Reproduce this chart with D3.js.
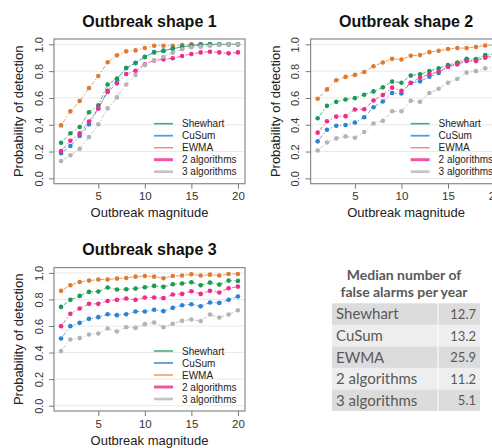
<!DOCTYPE html>
<html>
<head>
<meta charset="utf-8">
<script src="https://cdn.jsdelivr.net/npm/d3@7"></script>
<style>
  body { margin: 0; background: #fff; }
  svg { display: block; }
</style>
</head>
<body>
<div id="chart"></div>
<script>
// outbreak magnitude (x) values
var magnitudes = [1, 2, 3, 4, 5, 6, 7, 8, 9, 10, 11, 12, 13, 14, 15, 16, 17, 18, 19, 20];
var seriesNames = ["Shewhart", "CuSum", "EWMA", "2 algorithms", "3 algorithms"];
var yTicks = [0, 0.2, 0.4, 0.6, 0.8, 1.0];
var xTicks = [5, 10, 15, 20];

// outbreak shape 1
var s1Shewhart = [0.266, 0.336, 0.383, 0.493, 0.545, 0.70, 0.744, 0.823, 0.86, 0.905, 0.94, 0.953, 0.968, 0.98, 0.99, 0.995, 1.0, 1.0, 1.0, 1.0];
var s1CuSum    = [0.187, 0.241, 0.316, 0.403, 0.522, 0.654, 0.739, 0.823, 0.863, 0.908, 0.943, 0.95, 0.968, 0.983, 0.993, 1.0, 1.0, 1.0, 1.0, 1.0];
var s1EWMA     = [0.395, 0.50, 0.577, 0.674, 0.764, 0.866, 0.918, 0.948, 0.955, 0.973, 0.99, 0.99, 0.99, 0.995, 1.0, 1.0, 1.0, 1.0, 1.0, 1.0];
var s1Two      = [0.204, 0.281, 0.336, 0.423, 0.522, 0.644, 0.709, 0.779, 0.803, 0.851, 0.88, 0.888, 0.896, 0.913, 0.928, 0.94, 0.945, 0.94, 0.933, 0.94];
var s1Three    = [0.129, 0.172, 0.221, 0.308, 0.403, 0.522, 0.604, 0.70, 0.771, 0.846, 0.883, 0.908, 0.938, 0.963, 0.978, 0.983, 0.99, 0.998, 1.0, 1.0];

// outbreak shape 2
var s2Shewhart = [0.449, 0.541, 0.571, 0.589, 0.599, 0.624, 0.649, 0.679, 0.722, 0.714, 0.767, 0.777, 0.80, 0.822, 0.845, 0.865, 0.892, 0.89, 0.92, 0.93];
var s2CuSum    = [0.276, 0.363, 0.393, 0.398, 0.416, 0.456, 0.531, 0.574, 0.637, 0.634, 0.712, 0.724, 0.759, 0.787, 0.837, 0.857, 0.882, 0.88, 0.90, 0.91];
var s2EWMA     = [0.594, 0.664, 0.732, 0.757, 0.772, 0.794, 0.837, 0.865, 0.892, 0.887, 0.915, 0.92, 0.942, 0.952, 0.965, 0.972, 0.972, 0.98, 0.992, 0.995];
var s2Two      = [0.341, 0.426, 0.461, 0.464, 0.514, 0.516, 0.581, 0.622, 0.677, 0.654, 0.714, 0.752, 0.777, 0.797, 0.832, 0.85, 0.875, 0.875, 0.905, 0.92];
var s2Three    = [0.208, 0.268, 0.298, 0.313, 0.303, 0.346, 0.409, 0.429, 0.501, 0.501, 0.579, 0.571, 0.637, 0.669, 0.714, 0.742, 0.789, 0.80, 0.822, 0.83];

// outbreak shape 3
var s3Shewhart = [0.744, 0.797, 0.827, 0.857, 0.86, 0.89, 0.875, 0.877, 0.882, 0.892, 0.902, 0.895, 0.915, 0.92, 0.93, 0.907, 0.927, 0.912, 0.942, 0.94];
var s3CuSum    = [0.506, 0.599, 0.624, 0.654, 0.667, 0.689, 0.682, 0.689, 0.709, 0.709, 0.722, 0.712, 0.737, 0.757, 0.764, 0.749, 0.777, 0.774, 0.797, 0.822];
var s3EWMA     = [0.865, 0.907, 0.932, 0.942, 0.95, 0.95, 0.957, 0.962, 0.972, 0.977, 0.972, 0.96, 0.977, 0.98, 0.99, 0.98, 0.987, 0.98, 0.992, 0.992];
var s3Two      = [0.599, 0.692, 0.732, 0.767, 0.767, 0.789, 0.797, 0.807, 0.797, 0.815, 0.815, 0.81, 0.837, 0.842, 0.862, 0.842, 0.865, 0.852, 0.885, 0.897];
var s3Three    = [0.411, 0.499, 0.509, 0.536, 0.544, 0.581, 0.559, 0.591, 0.586, 0.614, 0.627, 0.591, 0.617, 0.639, 0.649, 0.637, 0.687, 0.664, 0.687, 0.719];

// table of false alarms
var tableLabels = ["Shewhart", "CuSum", "EWMA", "2 algorithms", "3 algorithms"];
var tableValues = ["12.7", "13.2", "25.9", "11.2", "5.1"];

var colors = {
  "Shewhart": "#1a9a55",
  "CuSum": "#2e82d4",
  "EWMA": "#e07a30",
  "2 algorithms": "#ef2b8c",
  "3 algorithms": "#b4b4b4"
};
var legendWidth = { "Shewhart": 1.6, "CuSum": 1.8, "EWMA": 1.4, "2 algorithms": 3, "3 algorithms": 2.6 };

var panels = [
  { title: "Outbreak shape 1", x0: 54, x1: 245, y0: 39, y1: 183.7,
    series: [s1Shewhart, s1CuSum, s1EWMA, s1Two, s1Three] },
  { title: "Outbreak shape 2", x0: 310.6, x1: 501.6, y0: 39, y1: 183.7,
    series: [s2Shewhart, s2CuSum, s2EWMA, s2Two, s2Three] },
  { title: "Outbreak shape 3", x0: 54, x1: 245, y0: 267.6, y1: 411,
    series: [s3Shewhart, s3CuSum, s3EWMA, s3Two, s3Three] }
];
// drawing order of series (index into seriesNames)
var drawOrder = [2, 1, 0, 3, 4];

var svg = d3.select("#chart")
  .append("svg")
    .attr("width", 492)
    .attr("height", 448)
    .style("font-family", "'Liberation Sans', Arial, sans-serif");

panels.forEach(function(p) {
  var x = d3.scaleLinear().domain([0.24, 20.76]).range([p.x0, p.x1]);
  var y = d3.scaleLinear().domain([-0.04, 1.04]).range([p.y1, p.y0]);
  var g = svg.append("g");

  // light grid
  g.append("g")
    .selectAll("line")
    .data(yTicks)
    .enter()
    .append("line")
      .attr("x1", p.x0).attr("x2", p.x1)
      .attr("y1", d => y(d)).attr("y2", d => y(d))
      .attr("stroke", "#e9e9e9")
      .attr("stroke-width", 1);

  // lines + points
  drawOrder.forEach(function(i) {
    var name = seriesNames[i];
    var vals = p.series[i];
    var pts = magnitudes.map((m, k) => [m, vals[k]]);
    var line = d3.line().x(d => x(d[0])).y(d => y(d[1]));
    g.append("path")
      .datum(pts)
      .attr("d", line)
      .attr("fill", "none")
      .attr("stroke", colors[name])
      .attr("stroke-width", 1)
      .attr("stroke-opacity", 0.75)
      .attr("stroke-dasharray", "1.5,2,4,2");
    g.append("g")
      .selectAll("circle")
      .data(pts)
      .enter()
      .append("circle")
        .attr("cx", d => x(d[0]))
        .attr("cy", d => y(d[1]))
        .attr("r", 2.3)
        .style("fill", colors[name]);
  });

  // box
  g.append("rect")
    .attr("x", p.x0).attr("y", p.y0)
    .attr("width", p.x1 - p.x0).attr("height", p.y1 - p.y0)
    .attr("fill", "none")
    .attr("stroke", "#8a8a8a")
    .attr("stroke-width", 1.2);

  // y axis
  var ya = g.append("g")
    .attr("transform", "translate(" + p.x0 + ",0)")
    .call(d3.axisLeft(y).tickValues(yTicks).tickSize(5).tickFormat(d3.format(".1f")));
  ya.select(".domain").remove();
  ya.selectAll("line").attr("stroke", "#777");
  ya.selectAll("text")
    .attr("transform", "rotate(-90)")
    .attr("x", 0).attr("y", -11.5).attr("dy", 0)
    .style("text-anchor", "middle")
    .style("font-size", "11px")
    .style("font-family", "'Liberation Sans', Arial, sans-serif")
    .attr("fill", "#333");

  // x axis
  var xa = g.append("g")
    .attr("transform", "translate(0," + p.y1 + ")")
    .call(d3.axisBottom(x).tickValues(xTicks).tickSize(5).tickPadding(3.5));
  xa.select(".domain").remove();
  xa.selectAll("line").attr("stroke", "#777");
  xa.selectAll("text")
    .style("font-size", "11.5px")
    .style("font-family", "'Liberation Sans', Arial, sans-serif")
    .attr("fill", "#333");

  // title
  g.append("text")
    .attr("x", (p.x0 + p.x1) / 2)
    .attr("y", p.y0 - 12.5)
    .attr("text-anchor", "middle")
    .style("font-size", "16px")
    .style("font-weight", "bold")
    .attr("fill", "#111")
    .text(p.title);

  // axis labels
  g.append("text")
    .attr("transform", "translate(" + (p.x0 - 31) + "," + ((p.y0 + p.y1) / 2) + ") rotate(-90)")
    .attr("text-anchor", "middle")
    .style("font-size", "13px")
    .attr("fill", "#222")
    .text("Probability of detection");
  g.append("text")
    .attr("x", (p.x0 + p.x1) / 2)
    .attr("y", p.y1 + 33.5)
    .attr("text-anchor", "middle")
    .style("font-size", "13px")
    .attr("fill", "#222")
    .text("Outbreak magnitude");

  // legend
  var lg = g.append("g")
    .attr("transform", "translate(" + (p.x1 - 91) + "," + (p.y1 - 60) + ")");
  seriesNames.forEach(function(name, i) {
    lg.append("line")
      .attr("x1", 0).attr("x2", 19)
      .attr("y1", i * 12).attr("y2", i * 12)
      .attr("stroke", colors[name])
      .attr("stroke-opacity", 0.8)
      .attr("stroke-width", legendWidth[name]);
    lg.append("text")
      .attr("x", 28).attr("y", i * 12)
      .attr("dy", "0.35em")
      .style("font-size", "10px")
      .attr("fill", "#222")
      .text(name);
  });
});

// table: median number of false alarms per year
var tb = svg.append("g").style("font-family", "Lato, 'Noto Sans', sans-serif");
tb.append("text")
  .attr("x", 404).attr("y", 280)
  .attr("text-anchor", "middle")
  .style("font-size", "14px").style("font-weight", "bold")
  .attr("fill", "#595959")
  .text("Median number of");
tb.append("text")
  .attr("x", 404).attr("y", 297)
  .attr("text-anchor", "middle")
  .style("font-size", "14px").style("font-weight", "bold")
  .attr("fill", "#595959")
  .text("false alarms per year");

var rowY = d3.scaleBand().domain(tableLabels).range([303.3, 411]);
var rows = tb.selectAll("g.row")
  .data(tableLabels)
  .enter()
  .append("g")
    .attr("class", "row")
    .attr("transform", d => "translate(0," + rowY(d) + ")");
rows.append("rect")
  .attr("x", 332).attr("width", 148)
  .attr("height", rowY.bandwidth())
  .attr("fill", (d, i) => i % 2 === 0 ? "#dcdcdc" : "#eeeeee");
rows.append("line")
  .attr("x1", 438).attr("x2", 438)
  .attr("y1", 0).attr("y2", rowY.bandwidth())
  .attr("stroke", "#fff").attr("stroke-width", 1);
rows.append("text")
  .attr("x", 336).attr("y", rowY.bandwidth() / 2)
  .attr("dy", "0.36em")
  .style("font-size", "15px")
  .attr("fill", "#595959")
  .text(d => d);
rows.append("text")
  .attr("x", 476).attr("y", rowY.bandwidth() / 2)
  .attr("dy", "0.38em")
  .attr("text-anchor", "end")
  .style("font-size", "13px")
  .attr("fill", "#595959")
  .text((d, i) => tableValues[i]);
</script>
</body>
</html>
